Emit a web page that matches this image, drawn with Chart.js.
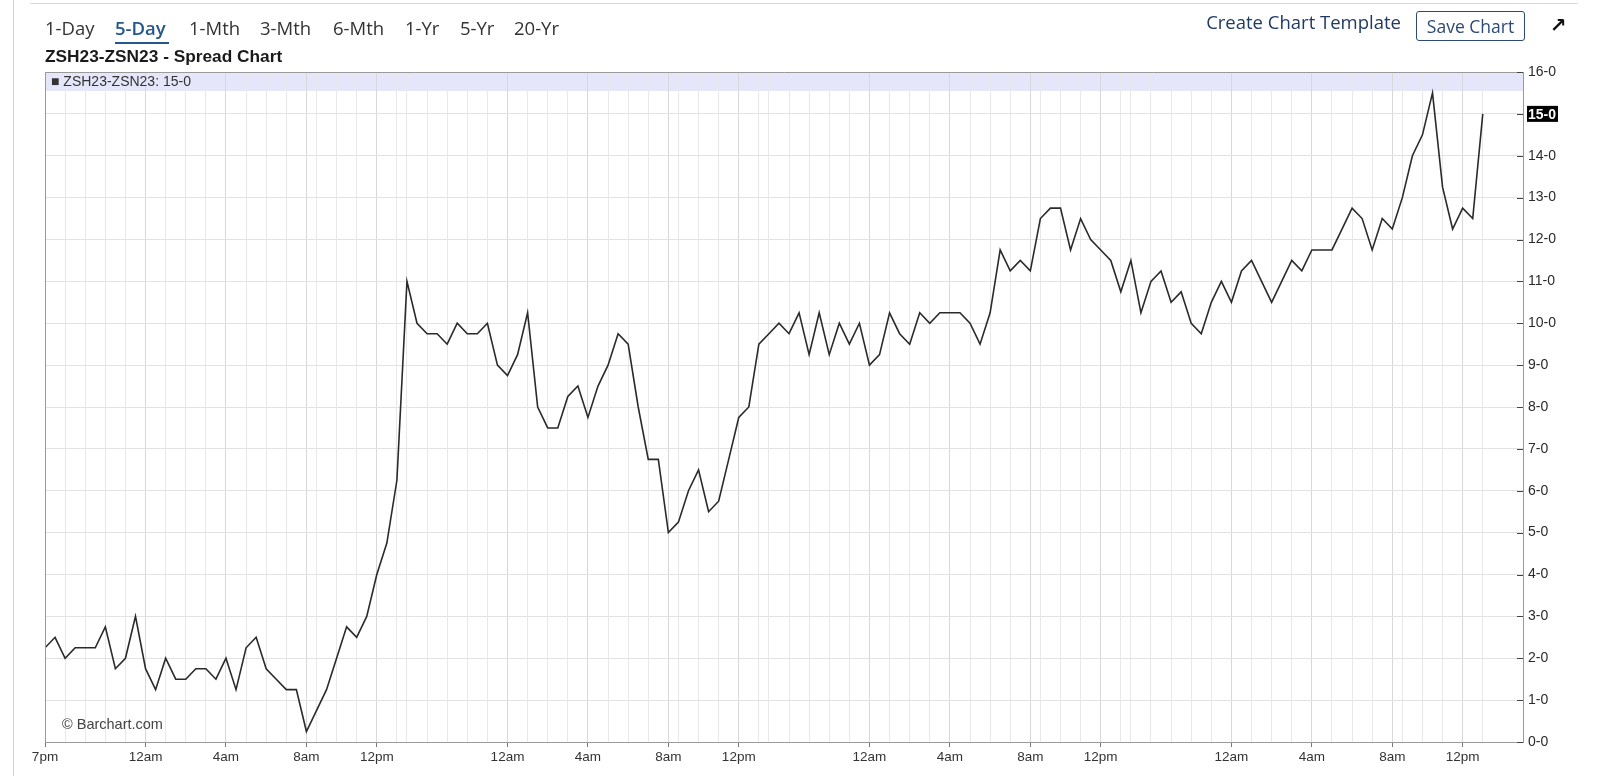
<!DOCTYPE html>
<html>
<head>
<meta charset="utf-8">
<script src="https://cdn.jsdelivr.net/npm/chart.js@4"></script>
<style>
body { margin: 0; background: #fff; width: 1600px; height: 776px; overflow: hidden; position: relative; font-family: 'Open Sans', sans-serif; }
#chart { position: absolute; left: 0; top: 0; }
.abs { position: absolute; white-space: nowrap; }
.tab { top: 15px; line-height: 26px; font-size: 18.5px; color: #333; }
.tab.on { color: #26578a; font-weight: 600; }
</style>
</head>
<body>
<canvas id="chart" width="1600" height="776"></canvas>

<div class="abs" style="left:13px;top:0;width:1px;height:776px;background:#d4d4d4"></div>
<div class="abs" style="left:30px;top:3px;width:1548px;height:1px;background:#d8d8d8"></div>

<div class="abs tab" style="left:45px">1-Day</div>
<div class="abs tab on" style="left:115px">5-Day</div>
<div class="abs" style="left:115px;top:42px;width:54px;height:2px;background:#26578a"></div>
<div class="abs tab" style="left:189px">1-Mth</div>
<div class="abs tab" style="left:260px">3-Mth</div>
<div class="abs tab" style="left:333px">6-Mth</div>
<div class="abs tab" style="left:405px">1-Yr</div>
<div class="abs tab" style="left:460px">5-Yr</div>
<div class="abs tab" style="left:514px">20-Yr</div>

<div class="abs" style="right:199px;top:9px;line-height:26px;font-size:18.5px;color:#1f3a63">Create Chart Template</div>
<div class="abs" style="left:1416px;top:11px;width:107px;height:28px;border:1px solid #2b4a75;border-radius:3px;font-size:17.5px;line-height:28px;text-align:center;color:#2b4a75">Save Chart</div>
<div class="abs" style="left:1550px;top:12px;line-height:26px;font-size:20px;font-weight:bold;font-family:'DejaVu Sans';color:#111">&#8599;</div>

<div class="abs" id="title" style="left:45px;top:46px;line-height:20px;font-size:17.3px;font-weight:bold;font-family:'Liberation Sans',Arial,sans-serif;color:#1a1a1a">ZSH23-ZSN23 - Spread Chart</div>
<div class="abs" id="legend" style="left:51px;top:73px;line-height:17px;font-size:14px;font-family:'Liberation Sans',Arial,sans-serif;color:#333"></div>
<div class="abs" style="left:62px;top:715px;line-height:18px;font-size:14.5px;font-family:'Liberation Sans',Arial,sans-serif;color:#444">&copy; Barchart.com</div>

<script>
// 30-minute bars of one trading session (7pm - 7:45am, 8:30am - 1:20pm)
const sessionTimes = [
    '19:00', '19:30', '20:00', '20:30', '21:00', '21:30', '22:00', '22:30', '23:00', '23:30',
    '00:00', '00:30', '01:00', '01:30', '02:00', '02:30', '03:00', '03:30',
    '04:00', '04:30', '05:00', '05:30', '06:00', '06:30', '07:00', '07:30',
    '08:30', '09:00', '09:30', '10:00', '10:30', '11:00', '11:30', '12:00', '12:30', '13:00'
];
const sessionCount = 4;
const tickLabels = { '00:00': '12am', '04:00': '4am', '08:30': '8am', '12:00': '12pm' };
const firstLabel = '7pm';

// spread values, one per bar
const spread1 = [2.25, 2.5, 2, 2.25, 2.25, 2.25, 2.75, 1.75, 2, 3, 1.75, 1.25, 2, 1.5, 1.5, 1.75, 1.75, 1.5,
    2, 1.25, 2.25, 2.5, 1.75, 1.5, 1.25, 1.25, 0.25, 0.75, 1.25, 2, 2.75, 2.5, 3, 4, 4.75, 6.25];
const spread2 = [11, 10, 9.75, 9.75, 9.5, 10, 9.75, 9.75, 10, 9, 8.75, 9.25, 10.25, 8, 7.5, 7.5, 8.25, 8.5,
    7.75, 8.5, 9, 9.75, 9.5, 8, 6.75, 6.75, 5, 5.25, 6, 6.5, 5.5, 5.75, 6.75, 7.75, 8, 9.5];
const spread3 = [9.75, 10, 9.75, 10.25, 9.25, 10.25, 9.25, 10, 9.5, 10, 9, 9.25, 10.25, 9.75, 9.5, 10.25, 10, 10.25,
    10.25, 10.25, 10, 9.5, 10.25, 11.75, 11.25, 11.5, 11.25, 12.5, 12.75, 12.75, 11.75, 12.5, 12, 11.75, 11.5, 10.75];
const spread4 = [11.5, 10.25, 11, 11.25, 10.5, 10.75, 10, 9.75, 10.5, 11, 10.5, 11.25, 11.5, 11, 10.5, 11, 11.5, 11.25,
    11.75, 11.75, 11.75, 12.25, 12.75, 12.5, 11.75, 12.5, 12.25, 13, 14, 14.5, 15.5, 13.25, 12.25, 12.75, 12.5, 15];

const symbol = 'ZSH23-ZSN23';
const yMin = 0, yMax = 16;

const values = [].concat(spread1, spread2, spread3, spread4);
let times = [];
for (let s = 0; s < sessionCount; s++) times = times.concat(sessionTimes);
const lastValue = values[values.length - 1];

function fmt(v) {
    return Math.floor(v) + '-' + Math.round((v - Math.floor(v)) * 8);
}
document.querySelector('#legend').innerText = '\u25A0 ' + symbol + ': ' + fmt(lastValue);

function labelFor(i) {
    if (i === 0) return firstLabel;
    return tickLabels[times[i]] || '';
}

const points = values.map((v, i) => ({ x: i, y: v }));

//fondo de la leyenda y marco
const frame = {
    id: 'frame',
    beforeDraw(chart) {
        const { ctx, chartArea: { left, right, top } } = chart;
        ctx.save();
        ctx.fillStyle = '#e6e6fa';
        ctx.fillRect(left, top, right - left, 19);
        ctx.restore();
    },
    afterDraw(chart) {
        const { ctx, chartArea: { left, right, top, bottom }, scales: { y } } = chart;
        ctx.save();
        ctx.strokeStyle = '#9a9a9a';
        ctx.lineWidth = 1;
        ctx.beginPath();
        ctx.moveTo(left + 0.5, bottom);
        ctx.lineTo(left + 0.5, top + 0.5);
        ctx.lineTo(right, top + 0.5);
        ctx.stroke();
        // tick marks on the inside of the right axis
        ctx.strokeStyle = '#444';
        for (let v = yMin; v <= yMax; v++) {
            const py = Math.round(y.getPixelForValue(v)) + 0.5;
            ctx.beginPath();
            ctx.moveTo(right - 6, py);
            ctx.lineTo(right, py);
            ctx.stroke();
        }
        // last value marker
        const ly = y.getPixelForValue(lastValue);
        ctx.fillStyle = '#000';
        ctx.fillRect(right + 4, ly - 8, 31, 16);
        ctx.fillStyle = '#fff';
        ctx.font = 'bold 14px "Liberation Sans", Arial';
        ctx.textBaseline = 'middle';
        ctx.textAlign = 'left';
        ctx.fillText(fmt(lastValue), right + 5, ly + 1);
        ctx.restore();
    }
};

const config = {
    type: 'line',
    data: {
        datasets: [{
            data: points,
            borderColor: '#2a2a2a',
            borderWidth: 1.6,
            pointRadius: 0,
            tension: 0,
            fill: false
        }]
    },
    options: {
        responsive: false,
        devicePixelRatio: 1,
        animation: false,
        layout: { padding: { left: 45, top: 72, right: 0, bottom: 0 } },
        plugins: { legend: { display: false }, tooltip: { enabled: false } },
        scales: {
            x: {
                type: 'linear',
                min: 0,
                max: 147,
                afterBuildTicks(scale) {
                    const ticks = [];
                    times.forEach((t, i) => {
                        if (t.slice(3) === '00' || t === '08:30') ticks.push({ value: i });
                    });
                    scale.ticks = ticks;
                },
                afterFit(scale) { scale.height = 34; },
                ticks: {
                    autoSkip: false,
                    maxRotation: 0,
                    padding: 2,
                    color: '#333',
                    font: { family: '"Liberation Sans", Arial', size: 13.5 },
                    callback: (value) => labelFor(value)
                },
                grid: {
                    color: (c) => c.tick && labelFor(c.tick.value) ? '#d8d8d8' : '#e8e8e8',
                    tickColor: (c) => c.tick && labelFor(c.tick.value) ? '#777' : 'rgba(0,0,0,0)',
                    tickLength: 5
                },
                border: { color: '#9a9a9a' }
            },
            y: {
                position: 'right',
                min: yMin,
                max: yMax,
                afterFit(scale) { scale.width = 77; },
                ticks: {
                    stepSize: 1,
                    padding: 5,
                    color: '#2a2a2a',
                    font: { family: '"Liberation Sans", Arial', size: 14 },
                    callback: (v) => fmt(v)
                },
                grid: { color: '#e2e2e2', drawTicks: false },
                border: { color: '#9a9a9a' }
            }
        }
    },
    plugins: [frame]
};

const myChart = new Chart(document.getElementById('chart'), config);
</script>
</body>
</html>
